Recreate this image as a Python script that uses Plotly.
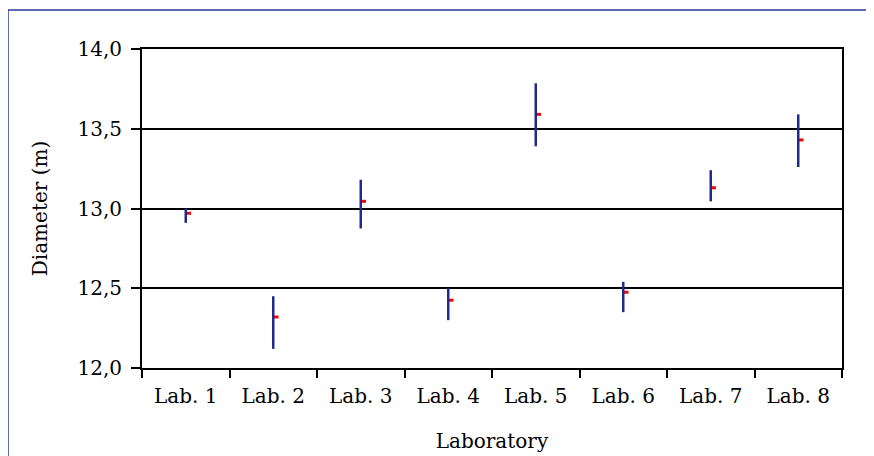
import plotly.graph_objects as go

labs = ["Lab. 1", "Lab. 2", "Lab. 3", "Lab. 4", "Lab. 5", "Lab. 6", "Lab. 7", "Lab. 8"]
high = [13.00, 12.45, 13.18, 12.50, 13.785, 12.54, 13.24, 13.59]
low = [12.91, 12.12, 12.875, 12.30, 13.39, 12.35, 13.045, 13.26]
close = [12.97, 12.32, 13.045, 12.425, 13.59, 12.475, 13.13, 13.43]
y_ticks = [12.0, 12.5, 13.0, 13.5, 14.0]

BLUE = "#1F2A8C"
RED = "#FF0000"
FONT = "DejaVu Serif"
FS = 20

idx = list(range(len(labs)))
bounds = [i - 0.5 for i in range(len(labs) + 1)]

fig = go.Figure()

# High-low stems (on the labelled axis x2)
fig.add_trace(go.Scatter(
    x=idx, y=close, mode="markers", xaxis="x2",
    marker=dict(size=0.1, color="rgba(0,0,0,0)"),
    error_y=dict(type="data", symmetric=False,
                 array=[h - c for h, c in zip(high, close)],
                 arrayminus=[c - l for c, l in zip(close, low)],
                 color=BLUE, thickness=2.5, width=0),
    hoverinfo="skip", showlegend=False,
))
# Close ticks (right side)
fig.add_trace(go.Scatter(
    x=idx, y=close, mode="markers",
    marker=dict(size=0.1, color="rgba(0,0,0,0)"),
    error_x=dict(type="data", symmetric=False,
                 array=[0.06] * len(labs), arrayminus=[0] * len(labs),
                 color=RED, thickness=3, width=0),
    hoverinfo="skip", showlegend=False,
))

OFF = 8  # page body margin
W, H = 874, 456
L, R, T, B = 142 - OFF, 32 + OFF, 49 - OFF, 88 + OFF
pw, ph = W - L - R, H - T - B

fig.update_layout(
    width=W, height=H,
    margin=dict(l=L, r=R, t=T, b=B),
    paper_bgcolor="white", plot_bgcolor="white",
    separators=",.",
    font=dict(family=FONT, size=FS, color="black"),
    shapes=[dict(type="rect", xref="paper", yref="paper",
                 x0=(8 - 142) / pw, x1=(900 - 142) / pw,
                 y0=(368 - 500) / ph, y1=(368 - 10) / ph,
                 line=dict(color="#2B3A9E", width=1.5), layer="below")],
    xaxis2=dict(overlaying="x", side="bottom", anchor="y", range=[-0.5, 7.5],
                tickvals=idx, ticktext=labs, ticks="", showline=False,
                showgrid=False, zeroline=False, ticklabelstandoff=14,
                tickfont=dict(family=FONT, size=FS)),
    xaxis=dict(
        range=[-0.5, 7.5], tickvals=bounds, ticktext=[""] * len(bounds),
        showline=True, linecolor="black", linewidth=2, mirror=True,
        ticks="outside", ticklen=8, tickwidth=1.5, tickcolor="black",
        showgrid=False, zeroline=False,
        title=dict(text="Laboratory", font=dict(family=FONT, size=FS), standoff=53),
    ),
)
fig.update_yaxes(
    range=[12.0, 14.0], tickvals=y_ticks, tickformat=".1f",
    showline=True, linecolor="black", linewidth=2, mirror=True,
    ticks="outside", ticklen=9, tickwidth=1.5, tickcolor="black",
    showgrid=True, gridcolor="black", gridwidth=2, zeroline=False,
    ticklabelstandoff=5,
    title=dict(text="Diameter (m)", font=dict(family=FONT, size=FS), standoff=24),
    tickfont=dict(family=FONT, size=FS),
)

fig.write_html("out.html")
